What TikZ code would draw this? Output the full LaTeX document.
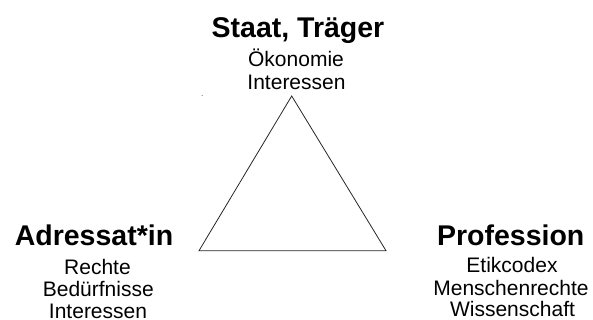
\documentclass[tikz,border=0pt]{standalone}
\usepackage{fontspec}
\setmainfont{Liberation Sans}
\begin{document}
\begin{tikzpicture}[x=1pt,y=-1pt,
  head/.style={font=\fontsize{28.5}{30}\selectfont\bfseries, anchor=base, inner sep=0pt},
  body/.style={font=\fontsize{21}{23}\selectfont, anchor=base, inner sep=0pt},
  edge/.style={draw=black!85, line width=0.8pt, line join=miter}]
\useasboundingbox (0,0) rectangle (593,320);
% triangle corners
\coordinate (top) at (291.7,96);
\coordinate (bl) at (199,250.7);
\coordinate (br) at (386,250.7);
\draw[edge] (top) -- (bl) -- (br) -- cycle;
\fill[black!70] (202,95.5) circle (0.5);
% top labels
\node[head] (staat) at (298,37.3) {Staat, Träger};
\node[body] (oek) at (296,66.2) {Ökonomie};
\node[body] (int1) at (296.5,89.5) {Interessen};
% left labels
\node[head] (adr) at (94,245.7) {Adressat*in};
\node[body] (re) at (97.5,274) {Rechte};
\node[body] (bed) at (98.3,296.7) {Bedürfnisse};
\node[body] (int2) at (98,318.5) {Interessen};
% right labels
\node[head] (prof) at (510.7,245) {Profession};
\node[body] (eti) at (512,272.8) {Etikcodex};
\node[body] (men) at (511,295) {Menschenrechte};
\node[body] (wis) at (512.5,316.8) {Wissenschaft};
\end{tikzpicture}
\end{document}
